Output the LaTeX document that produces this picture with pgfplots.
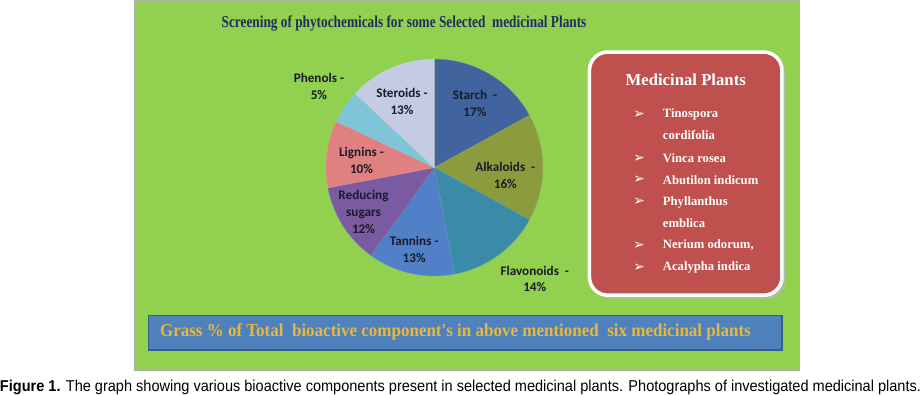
\documentclass[border=0pt]{standalone}
\usepackage{pgfplots}
\pgfplotsset{compat=1.18}
\usepackage{pgfplotstable}
\usepackage{graphicx}
\usepackage{fontspec}
\setmainfont{Liberation Serif}
\newfontfamily\calfont{Carlito}
\newfontfamily\arialfont{Liberation Sans}
\newfontfamily\dejafont{DejaVu Sans}

\definecolor{bgGreen}{HTML}{92D050}
\definecolor{cStarch}{HTML}{41649E}
\definecolor{cAlkaloids}{HTML}{8C9B3E}
\definecolor{cFlavonoids}{HTML}{3A8BA8}
\definecolor{cTannins}{HTML}{4F80C8}
\definecolor{cReducing}{HTML}{7A5AA0}
\definecolor{cLignins}{HTML}{E08080}
\definecolor{cPhenols}{HTML}{80C4D8}
\definecolor{cSteroids}{HTML}{C4CCE4}
\definecolor{titleNavy}{HTML}{1F2F5F}
\definecolor{boxRed}{HTML}{C0504D}
\definecolor{boxBlue}{HTML}{4F81BD}
\definecolor{boxBlueDark}{HTML}{385D8A}
\definecolor{goldText}{HTML}{E6B93C}
\definecolor{labelDark}{HTML}{1A1A2A}

\pgfplotstableread{
name value col
Starch 17 cStarch
Alkaloids 16 cAlkaloids
Flavonoids 14 cFlavonoids
Tannins 13 cTannins
Reducing 12 cReducing
Lignins 10 cLignins
Phenols 5 cPhenols
Steroids 13 cSteroids
}\piedata

\begin{document}
\begin{tikzpicture}
\begin{axis}[
  width=921pt, height=402pt, scale only axis,
  xmin=0, xmax=921, ymin=0, ymax=402,
  axis lines=none, clip=false,
]
% green panel
\fill[bgGreen, draw=gray!60, line width=0.8pt] (axis cs:141,30) rectangle (axis cs:797,395);
% title
\node[font=\bfseries\fontsize{16.5}{18}\selectfont, text=titleNavy] at (axis cs:407,372)
  {\resizebox{360pt}{\height}{Screening of phytochemicals for some Selected\ \ medicinal Plants}};

% pie wedges from table
\pgfplotstablegetrowsof{\piedata}
\pgfmathtruncatemacro{\nrows}{\pgfplotsretval-1}
\def\cum{0}
\pgfplotsforeachungrouped \i in {0,...,\nrows}{
  \pgfplotstablegetelem{\i}{value}\of{\piedata}\let\v\pgfplotsretval
  \pgfplotstablegetelem{\i}{col}\of{\piedata}\let\c\pgfplotsretval
  \pgfmathsetmacro{\a}{90-\cum*3.6}
  \pgfmathsetmacro{\b}{90-(\cum+\v)*3.6}
  \edef\wedge{\noexpand\fill[\c, draw=\c!85!white, line width=0.3pt] (axis cs:437,230) -- ++(\a:107pt) arc[start angle=\a, end angle=\b, radius=107pt] -- cycle;}
  \wedge
  \pgfmathsetmacro{\cum}{\cum+\v}
}

% pie labels
\tikzset{pl/.style={font=\calfont\bfseries\fontsize{13}{16.5}\selectfont, text=labelDark, align=center}}
\node[pl] at (axis cs:477,293) {Starch\ \ -\\17\%};
\node[pl] at (axis cs:507,222) {Alkaloids\ \ -\\16\%};
\node[pl] at (axis cs:536,120) {Flavonoids\ \ -\\14\%};
\node[pl] at (axis cs:417,149) {Tannins -\\13\%};
\node[pl] at (axis cs:367,186) {Reducing\\sugars\\12\%};
\node[pl] at (axis cs:365,237) {Lignins -\\10\%};
\node[pl] at (axis cs:323,310) {Phenols -\\5\%};
\node[pl] at (axis cs:405,295) {Steroids -\\13\%};

% medicinal plants box
\fill[gray!55, rounded corners=18pt] (axis cs:593,101) rectangle (axis cs:783,341);
\fill[boxRed, draw=white, line width=3.5pt, rounded corners=18pt] (axis cs:590,104) rectangle (axis cs:780,344);
\node[font=\bfseries\fontsize{16.5}{18}\selectfont, text=white] at (axis cs:685,317) {Medicinal Plants};
\tikzset{it/.style={font=\bfseries\fontsize{12.5}{14}\selectfont, text=white, anchor=west},
         bu/.style={font=\dejafont\fontsize{14}{14}\selectfont, text=white}}
\node[it] at (axis cs:659,282) {Tinospora};
\node[it] at (axis cs:659,262) {cordifolia};
\node[it] at (axis cs:659,239) {Vinca rosea};
\node[it] at (axis cs:659,218) {Abutilon indicum};
\node[it] at (axis cs:659,196) {Phyllanthus};
\node[it] at (axis cs:659,175) {emblica};
\node[it] at (axis cs:659,153) {Nerium odorum,};
\node[it] at (axis cs:659,131) {Acalypha indica};
\pgfplotsinvokeforeach{282,239,218,196,153,131}{
  \node[bu] at (axis cs:639,#1) {➢};
}

% bottom blue box
\fill[boxBlue, draw=boxBlueDark, line width=1.5pt] (axis cs:155,50) rectangle (axis cs:780,84);
\node[font=\bfseries\fontsize{18}{20}\selectfont, text=goldText, anchor=west, inner sep=0pt] at (axis cs:166,68)
  {\resizebox{583pt}{\height}{Grass \% of Total\ \ bioactive component\textquotesingle s in above mentioned\ \ six medicinal plants}};

% caption
\node[font=\arialfont\fontsize{15.5}{17}\selectfont, anchor=west, inner sep=0pt] at (axis cs:8,13)
  {\resizebox{909pt}{\height}{\textbf{Figure 1.} The graph showing various bioactive components present in selected medicinal plants. Photographs of investigated medicinal plants.}};
\end{axis}
\end{tikzpicture}
\end{document}
